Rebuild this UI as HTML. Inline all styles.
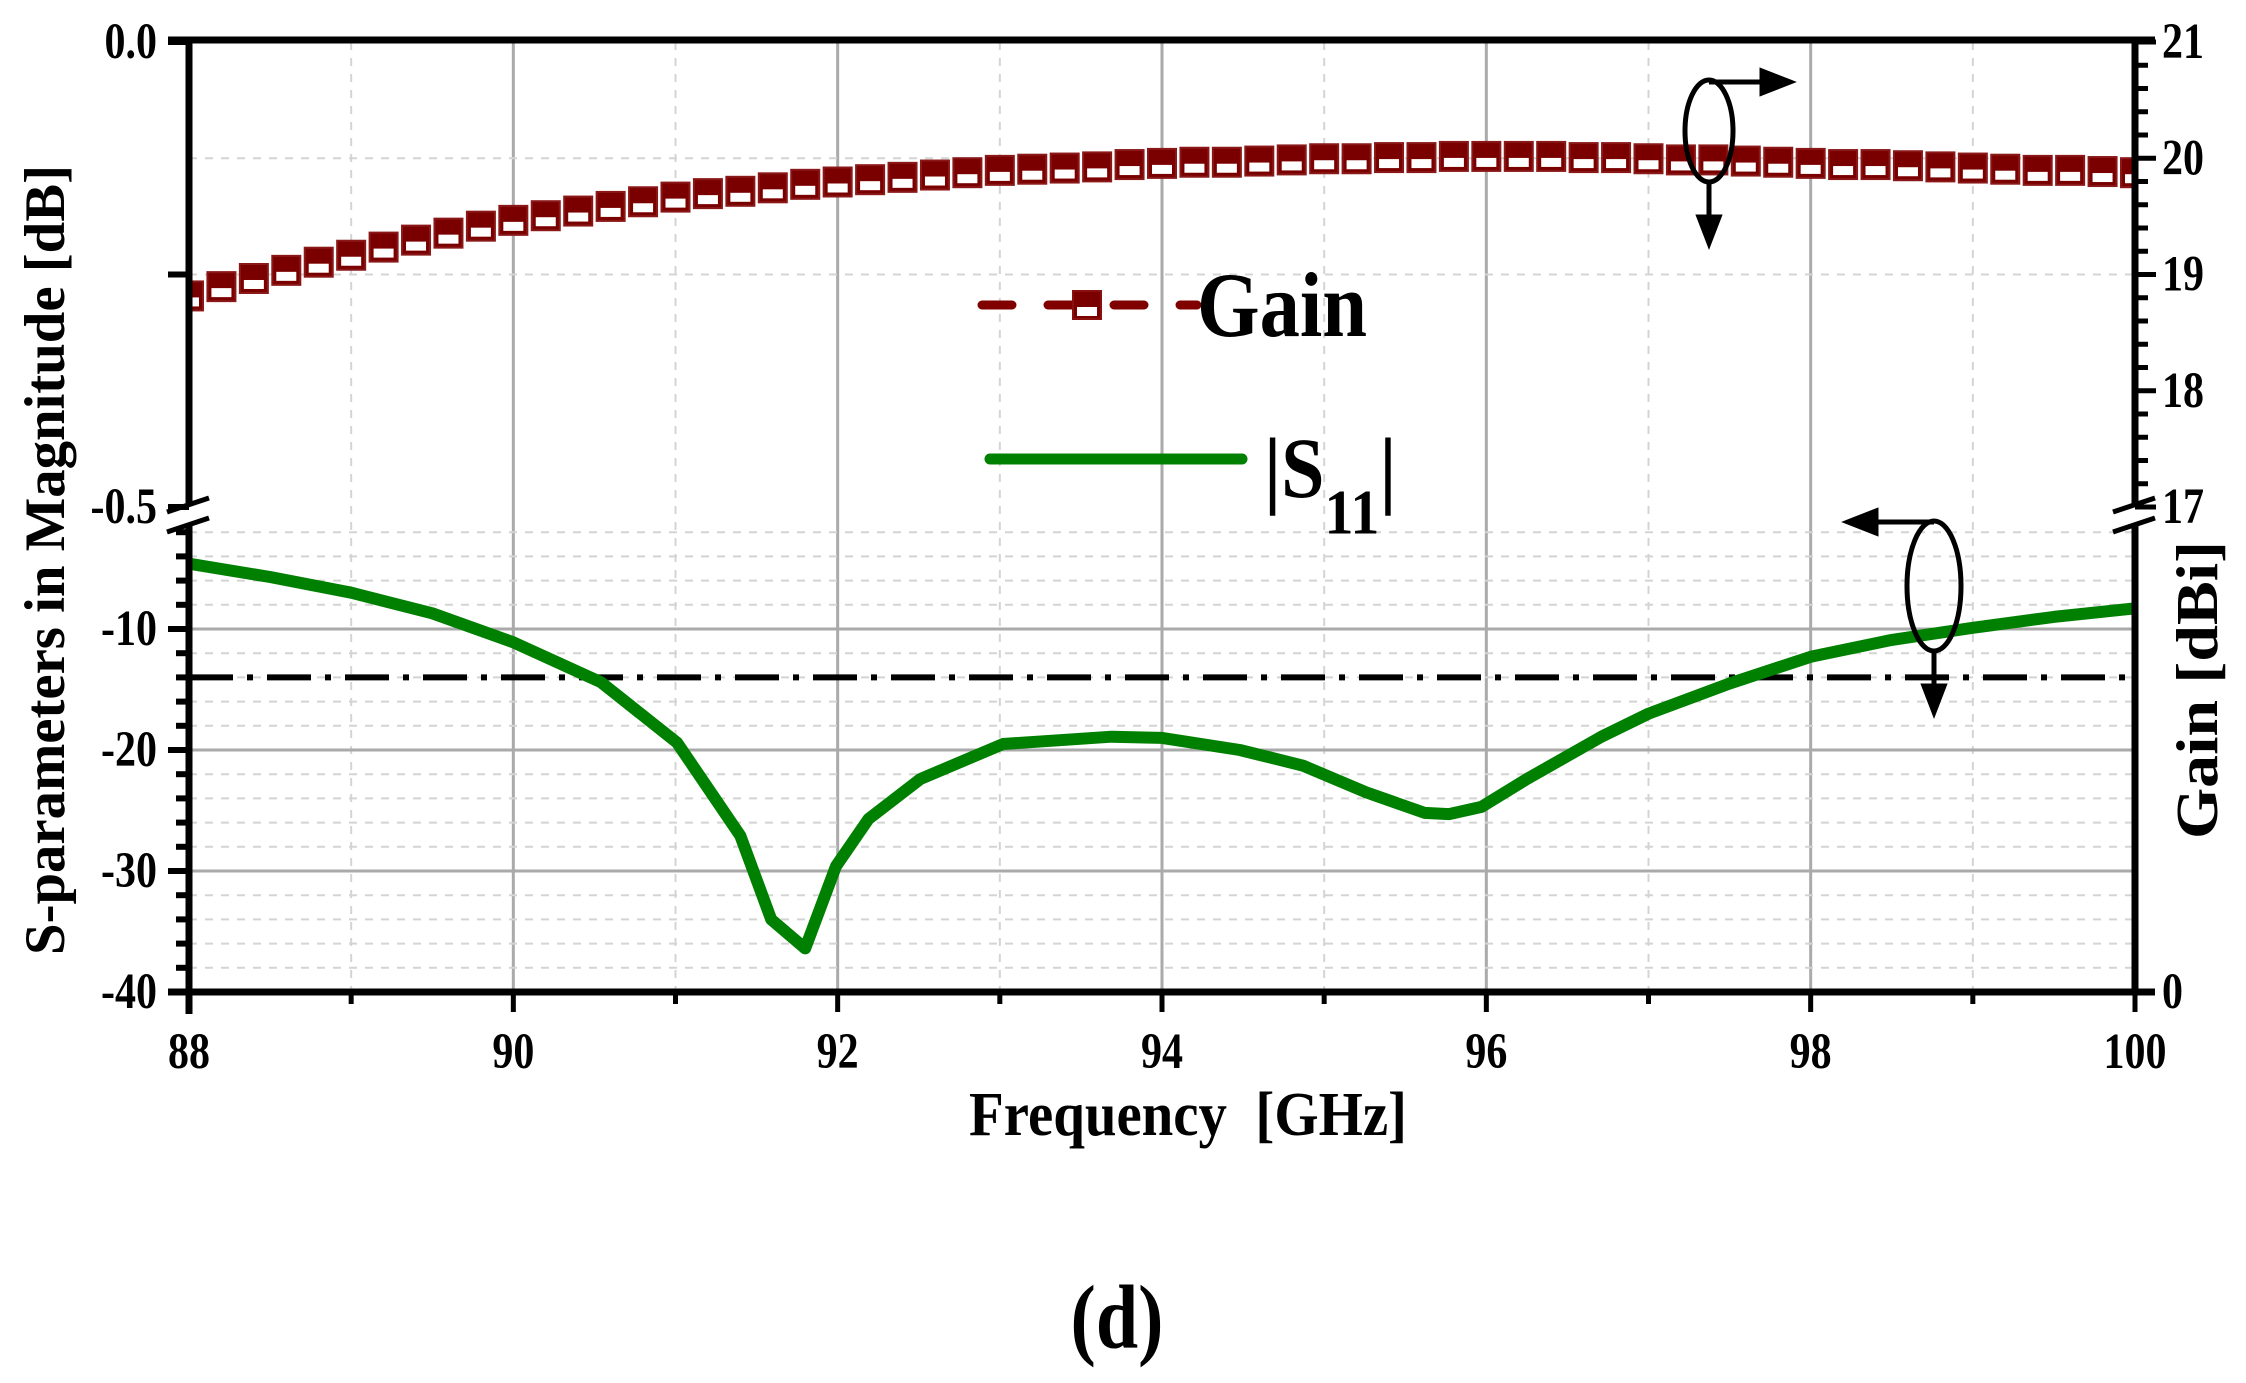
<!DOCTYPE html>
<html><head><meta charset="utf-8"><style>
html,body{margin:0;padding:0;background:#fff;}
svg{display:block;}
text{font-family:"Liberation Serif",serif;font-weight:bold;fill:#000;}
</style></head><body>
<svg id="chart" width="2246" height="1383" viewBox="0 0 2246 1383" xmlns="http://www.w3.org/2000/svg">
<defs>
<clipPath id="clipTop"><rect x="189" y="42" width="1946" height="468"/></clipPath>
<clipPath id="clipBot"><rect x="189" y="520" width="1946" height="472"/></clipPath>
</defs>
<g id="grid"></g>
<g id="series"></g>
<g id="axes"></g>
<g id="legend">
  <line x1="982" y1="305" x2="1197" y2="305" stroke="#800000" stroke-width="9" stroke-dasharray="30,36" stroke-linecap="round"/>
  <rect x="1073" y="291" width="28" height="28" fill="#7a0000" stroke="#8a1010" stroke-width="2"/>
  <rect x="1077" y="307" width="20" height="9" fill="#fff"/>
  <text transform="translate(1197,336) scale(1,1.15)" font-size="80" textLength="170" lengthAdjust="spacingAndGlyphs">Gain</text>
  <line x1="990" y1="459" x2="1242" y2="459" stroke="#008000" stroke-width="11" stroke-linecap="round"/>
  <text transform="translate(1264,497) scale(1,1.1)" font-size="78">|S<tspan font-size="58" dy="33">11</tspan><tspan dy="-33">|</tspan></text>
</g>
<g id="annot" fill="none" stroke="#000" stroke-width="5">
  <ellipse cx="1709" cy="131" rx="24" ry="51"/>
  <line x1="1709" y1="82" x2="1765" y2="82"/>
  <polygon points="1790,82 1762,71 1762,93" fill="#000"/>
  <line x1="1709" y1="182" x2="1709" y2="220"/>
  <polygon points="1709,243 1699,217 1719,217" fill="#000"/>
  <ellipse cx="1934" cy="586" rx="27" ry="65"/>
  <line x1="1934" y1="522" x2="1872" y2="522"/>
  <polygon points="1848,522 1876,511 1876,533" fill="#000"/>
  <line x1="1934" y1="651" x2="1934" y2="688"/>
  <polygon points="1934,712 1924,686 1944,686" fill="#000"/>
</g>
<text transform="translate(1188,1135) scale(1,1.2)" font-size="52" text-anchor="middle" textLength="438" lengthAdjust="spacingAndGlyphs" xml:space="preserve">Frequency  [GHz]</text>
<text transform="translate(64,560) rotate(-90) scale(1,1.15)" font-size="50" text-anchor="middle" textLength="790" lengthAdjust="spacingAndGlyphs">S-parameters in Magnitude [dB]</text>
<text transform="translate(2217,690) rotate(-90) scale(1,1.1)" font-size="54" text-anchor="middle" textLength="298" lengthAdjust="spacingAndGlyphs">Gain [dBi]</text>
<text transform="translate(1117,1348) scale(1,1.2)" font-size="76" text-anchor="middle">(d)</text>
</svg>
<script>
const gainFreq = [88.0,88.2,88.4,88.6,88.8,89.0,89.2,89.4,89.6,89.8,90.0,90.2,90.4,90.6,90.8,91.0,91.2,91.4,91.6,91.8,92.0,92.2,92.4,92.6,92.8,93.0,93.2,93.4,93.6,93.8,94.0,94.2,94.4,94.6,94.8,95.0,95.2,95.4,95.6,95.8,96.0,96.2,96.4,96.6,96.8,97.0,97.2,97.4,97.6,97.8,98.0,98.2,98.4,98.6,98.8,99.0,99.2,99.4,99.6,99.8,100.0];
const gainValues = [18.82,18.90,18.97,19.04,19.11,19.17,19.24,19.30,19.36,19.42,19.47,19.51,19.55,19.59,19.63,19.67,19.70,19.72,19.75,19.78,19.80,19.82,19.84,19.86,19.88,19.90,19.91,19.92,19.93,19.95,19.96,19.97,19.97,19.98,19.99,20.00,20.00,20.01,20.01,20.02,20.02,20.02,20.02,20.01,20.01,20.00,19.99,19.99,19.98,19.97,19.96,19.95,19.95,19.94,19.93,19.92,19.91,19.90,19.90,19.89,19.88];
const s11Freq = [88.0,88.5,89.0,89.5,90.0,90.54,91.01,91.4,91.59,91.8,91.99,92.19,92.51,93.02,93.69,94.0,94.48,94.87,95.26,95.62,95.77,95.97,96.25,96.71,97.0,97.5,98.0,98.5,99.0,99.5,100.0];
const s11Values = [-4.6,-5.7,-7.0,-8.7,-11.1,-14.4,-19.4,-27.1,-34.0,-36.4,-29.6,-25.7,-22.4,-19.5,-18.9,-19.0,-20.0,-21.3,-23.5,-25.2,-25.3,-24.7,-22.4,-18.9,-17.0,-14.5,-12.3,-10.9,-9.9,-9.0,-8.3];
const thresholdValue = [-14];
const xTicks = [88,90,92,94,96,98,100];
const leftTopTicks = ["0.0","-0.5"];
const leftBotTicks = [-10,-20,-30,-40];
const rightTicks = [21,20,19,18,17];

const NS = "http://www.w3.org/2000/svg";
const X0 = 189, X1 = 2135, FMIN = 88, FMAX = 100;
const xs = f => X0 + (f - FMIN) / (FMAX - FMIN) * (X1 - X0);
const yGain = g => 507 - (g - 17) / 4 * (507 - 42);
const yTopL = v => 42 + (0 - v) / 0.5 * (507 - 42);
const yS = d => 629 + (-10 - d) * 12.1;
const YB = 992;

function mk(tag, attrs, parent) {
  const e = document.createElementNS(NS, tag);
  for (const k in attrs) e.setAttribute(k, attrs[k]);
  parent.appendChild(e);
  return e;
}
const grid = document.getElementById('grid');
const series = document.getElementById('series');
const axes = document.getElementById('axes');

for (let f = 89; f < 100; f++) {
  const x = xs(f);
  const major = f % 2 === 0;
  const l = mk('line', {x1:x, y1:42, x2:x, y2:YB, stroke: major ? '#aaa' : '#d4d4d4', 'stroke-width': major ? 3 : 2, 'stroke-dasharray': major ? 'none' : '8,8'}, grid);
  
  
}
[19, 20].forEach(g => {
  const l = mk('line', {x1:X0, y1:yGain(g), x2:X1, y2:yGain(g), stroke:'#d4d4d4', 'stroke-width':2, 'stroke-dasharray':'8,8'}, grid);
  
  
});
for (let d = -2; d > -40; d -= 2) {
  const major = d % 10 === 0;
  const l = mk('line', {x1:X0, y1:yS(d), x2:X1, y2:yS(d), stroke: major ? '#aaa' : '#d4d4d4', 'stroke-width': major ? 3 : 2, 'stroke-dasharray': major ? 'none' : '8,8'}, grid);
  
  
}
const th = mk('line', {x1:X0, y1:yS(thresholdValue[0]), x2:X1, y2:yS(thresholdValue[0]), stroke:'#000', 'stroke-width':6, 'stroke-dasharray':'44,14,6,14'}, series);



const gg = mk('g', {'clip-path':'url(#clipTop)'}, series);


gainFreq.forEach((f, i) => {
  const x = xs(f), y = yGain(gainValues[i]);
  const r = mk('rect', {x:x-14, y:y-14, width:28, height:29, fill:'#7a0000', stroke:'#8a1818', 'stroke-width':2}, gg);
  
  
  const w = mk('rect', {x:x-10, y:y+2, width:20, height:9, fill:'#fff'}, gg);
  
  
});

const sg = mk('g', {'clip-path':'url(#clipBot)'}, series);
const pts = s11Freq.map((f, i) => xs(f).toFixed(1) + ',' + yS(s11Values[i]).toFixed(1)).join(' ');
const pl = mk('polyline', {points:pts, fill:'none', stroke:'#008000', 'stroke-width':12, 'stroke-linejoin':'round'}, sg);



const A = (x1,y1,x2,y2,w,name) => { const l = mk('line', {x1,y1,x2,y2,stroke:'#000','stroke-width':w}, axes);   return l; };
A(168, 40, 2155, 40, 7, 'top-axis');
A(189, 37, 189, 505, 7, 'left-axis-upper');
A(189, 522, 189, 1014, 7, 'left-axis-lower');
A(2135, 37, 2135, 507, 7, 'right-axis-upper');
A(2135, 524, 2135, 995, 7, 'right-axis-lower');
A(168, YB, 2155, YB, 7, 'bottom-axis');
[189, 2135].forEach(x => {
  mk('rect', {x:x-20, y:508, width:40, height:14, fill:'#fff', transform:`rotate(-18 ${x} 515)`}, axes);
  A(x-22, 512, x+20, 498, 5, 'axis-break-mark');
  A(x-22, 532, x+20, 518, 5, 'axis-break-mark');
});
for (let f = 88; f <= 100; f++) {
  A(xs(f), YB, xs(f), f % 2 === 0 ? YB + 20 : YB + 12, 5, 'x-tick');
}
function lbl(x, y, s, anchor, name) {
  const t = mk('text', {transform:`translate(${x},${y}) scale(1,1.2)`, 'font-size':42, 'text-anchor':anchor}, axes);
  t.textContent = s;
  
  
}
xTicks.forEach(f => lbl(xs(f), 1068, f, 'middle', 'x-tick-label'));
[0, -0.25, -0.5].forEach(v => A(168, yTopL(v), 189, yTopL(v), 6, 'left-tick'));
leftTopTicks.forEach(s => lbl(157, yTopL(parseFloat(s)) + 16, s, 'end', 'left-tick-label'));
for (let d = -2; d >= -40; d -= 2) {
  A(d % 10 === 0 ? 168 : 176, yS(d), 189, yS(d), 6, 'left-tick');
}
leftBotTicks.forEach(d => lbl(157, yS(d) + 16, d, 'end', 'left-tick-label'));
for (let k = 0; k <= 20; k++) {
  const g = 17 + k * 0.2;
  A(2135, yGain(g), k % 5 === 0 ? 2156 : 2148, yGain(g), 5, 'right-tick');
}
rightTicks.forEach(g => lbl(2162, yGain(g) + 16, g, 'start', 'right-tick-label'));
lbl(2162, YB + 16, '0', 'start', 'right-tick-label');
</script>
</body></html>
